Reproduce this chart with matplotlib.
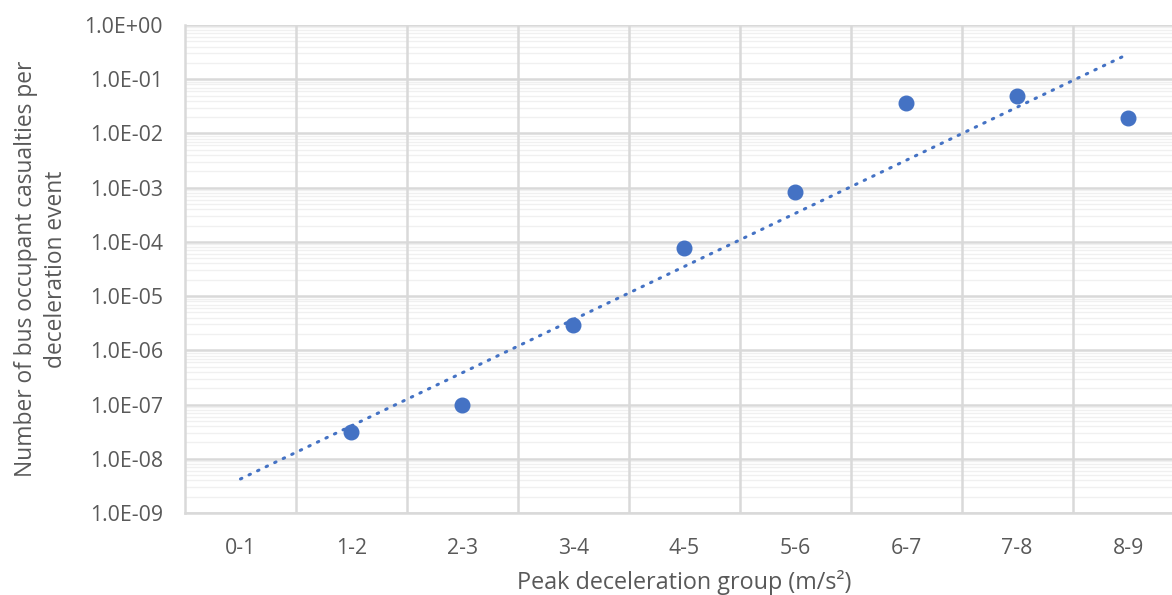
import matplotlib
matplotlib.use('AGG')

import numpy as np
import matplotlib.pyplot as plt
from matplotlib.ticker import FuncFormatter, LogLocator, NullFormatter

# Categories on the x axis
groups = ['0-1', '1-2', '2-3', '3-4', '4-5', '5-6', '6-7', '7-8', '8-9']
# Casualties per deceleration event (no value for 0-1)
casualties = [np.nan, 3.1e-8, 1.0e-7, 2.9e-6, 7.7e-5, 8.3e-4, 3.6e-2, 4.9e-2, 1.9e-2]

blue = '#4472C4'
grey_txt = '#595959'

plt.rcParams['font.family'] = ['Open Sans', 'DejaVu Sans']

fig = plt.figure(figsize=(11.72, 5.95), dpi=100)
ax = fig.add_axes([185/1172, 1-513/595, (1183.5-185)/1172, 488/595])

x = np.arange(len(groups))
y = np.array(casualties)

# Exponential trendline (fit on log10 of the known points)
ok = ~np.isnan(y)
k, b = np.polyfit(x[ok], np.log10(y[ok]), 1)
ax.plot(x, 10**(k*x + b), color=blue, lw=2.2, linestyle=(0, (0.5, 2.6)),
        dash_capstyle='round', zorder=3)
ax.plot(x, y, 'o', color=blue, ms=10.5, zorder=4)

ax.set_yscale('log')
ax.set_ylim(1e-9, 1)
ax.set_xlim(-0.5, len(groups)-0.5)
ax.set_xticks(x)
ax.set_xticklabels(groups)
ax.yaxis.set_major_locator(LogLocator(base=10, numticks=20))
ax.yaxis.set_minor_locator(LogLocator(base=10, subs=np.arange(2, 10), numticks=20))
ax.yaxis.set_minor_formatter(NullFormatter())
ax.yaxis.set_major_formatter(FuncFormatter(lambda v, p: '%.1E' % v))

# gridlines
ax.grid(which='minor', axis='y', color='#f0f0f0', lw=1.0, zorder=0)
ax.grid(which='major', axis='y', color='#d9d9d9', lw=1.8, zorder=1)
for xb in np.arange(0.5, len(groups)-0.5, 1):
    ax.axvline(xb, color='#d9d9d9', lw=1.8, zorder=1)
ax.set_axisbelow(True)

for s in ['top', 'right']:
    ax.spines[s].set_visible(False)
for s in ['left', 'bottom']:
    ax.spines[s].set_color('#d9d9d9')
    ax.spines[s].set_linewidth(1.8)

ax.tick_params(which='both', length=0)
ax.tick_params(axis='y', pad=16, labelsize=15.3, labelcolor=grey_txt)
ax.tick_params(axis='x', pad=18, labelsize=15.3, labelcolor=grey_txt)

ax.set_xlabel('Peak deceleration group (m/s²)', fontsize=16.8, color=grey_txt, labelpad=8)
ax.set_ylabel('Number of bus occupant casualties per\ndeceleration event', fontsize=16.4,
              color=grey_txt, labelpad=12, linespacing=1.3)

plt.savefig('out.png', dpi=100)
